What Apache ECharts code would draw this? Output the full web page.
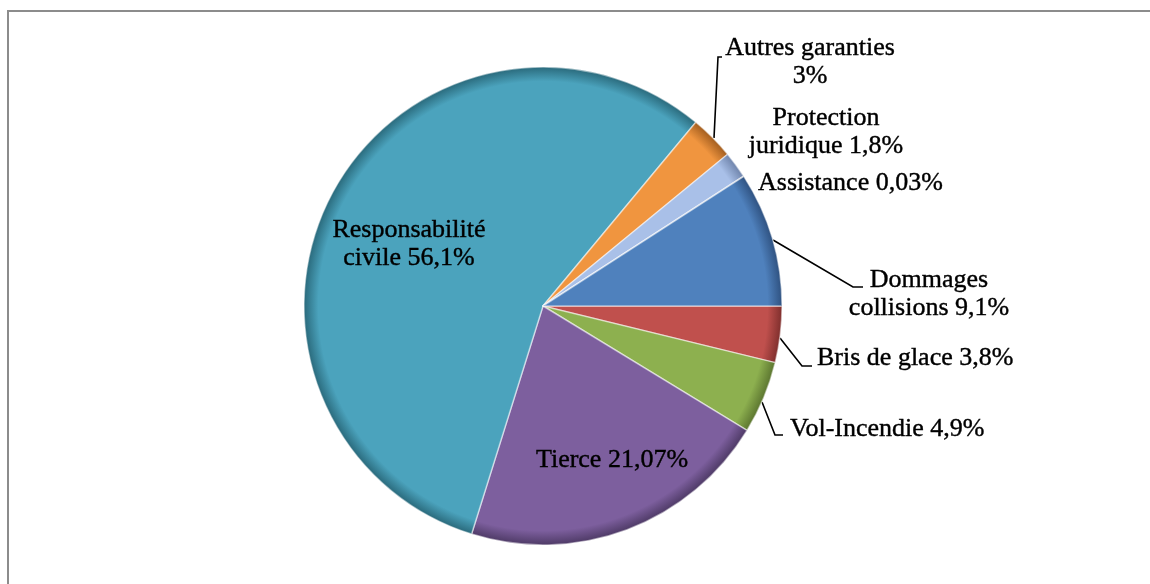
<!DOCTYPE html>
<html>
<head>
<meta charset="utf-8">
<script src="https://cdn.jsdelivr.net/npm/echarts@6/dist/echarts.min.js"></script>
<style>
  html, body { margin: 0; padding: 0; background: #fff; }
  #frame { position: absolute; left: 7px; top: 10px; width: 1150px; height: 600px;
           border-top: 2px solid #8c8c8c; border-left: 2px solid #8c8c8c; }
  #part1 { position: absolute; left: 0; top: 0; width: 1150px; height: 584px; }
</style>
</head>
<body>
<div id="frame"></div>
<div id="part1"></div>
<script>
// ordre horaire depuis 3 h
var categories = ['Bris de glace', 'Vol-Incendie', 'Tierce', 'Responsabilité civile',
                  'Autres garanties', 'Protection juridique', 'Assistance', 'Dommages collisions'];
var values = [3.8, 4.9, 21.07, 56.1, 3, 1.8, 0.03, 9.1];
var labelTexts = ['Bris de glace 3,8%', 'Vol-Incendie 4,9%', 'Tierce 21,07%',
                  'Responsabilité\ncivile 56,1%', 'Autres garanties\n3%',
                  'Protection\njuridique 1,8%', 'Assistance 0,03%', 'Dommages\ncollisions 9,1%'];
var colors = ['#C0504D', '#8DB04F', '#7D5F9E', '#4BA3BD', '#F0953F', '#A9C0E8', '#7F8FA8', '#4F81BD'];
var edgeColors = ['#7f2f2d', '#5c7630', '#4e3a66', '#2a6a7c', '#a35e1f', '#6f84ab', '#4f5a6b', '#2f5281'];

var cx = 543, cy = 306, R = 239;

// emplacement des étiquettes (comme dans Excel)
var labelPlace = [
    { x: 817, y: 358, align: 'left', line: [[780, 338], [802, 366], [812, 366]] },
    { x: 790, y: 429, align: 'left', line: [[762, 402], [775, 435], [783, 435]] },
    { x: 612, y: 460, align: 'center' },
    { x: 409, y: 244, align: 'center' },
    { x: 810, y: 62, align: 'center', line: [[714, 138], [718, 57], [722, 57]] },
    { x: 826, y: 132, align: 'center' },
    { x: 758, y: 183, align: 'left' },
    { x: 929, y: 294, align: 'center', line: [[773, 240], [853, 287], [863, 287]] }
];

drawFirstPart();

function drawFirstPart() {
    var data = [];
    for (var i = 0; i < values.length; i++) {
        data.push({
            name: categories[i],
            value: values[i],
            itemStyle: {
                color: {
                    type: 'radial', x: cx, y: cy, r: R, global: true,
                    colorStops: [
                        { offset: 0, color: colors[i] },
                        { offset: 0.88, color: colors[i] },
                        { offset: 0.94, color: colors[i] },
                        { offset: 1, color: edgeColors[i] }
                    ]
                }
            },
            label: { formatter: labelTexts[i] },
            labelLine: { show: !!labelPlace[i].line }
        });
    }

    var option = {
        animation: false,
        series: [{
            type: 'pie',
            center: [cx, cy],
            radius: R,
            startAngle: 0,
            clockwise: true,
            silent: true,
            itemStyle: {
                borderColor: 'rgba(255,255,255,0.5)',
                borderWidth: 1.5
            },
            label: {
                show: true,
                position: 'outside',
                color: '#000',
                fontFamily: '"Liberation Serif", "DejaVu Serif", serif',
                fontSize: 26,
                lineHeight: 28,
                textBorderColor: '#000',
                textBorderWidth: 0.4
            },
            labelLine: {
                show: true,
                lineStyle: { color: '#000', width: 1.6 }
            },
            labelLayout: function (params) {
                var p = labelPlace[params.dataIndex];
                var res = { x: p.x, y: p.y, align: p.align, verticalAlign: 'middle' };
                if (p.line) res.labelLinePoints = p.line;
                return res;
            },
            data: data
        }]
    };

    var myChart = echarts.init(document.getElementById('part1'));
    myChart.setOption(option, true);
}
</script>
</body>
</html>
